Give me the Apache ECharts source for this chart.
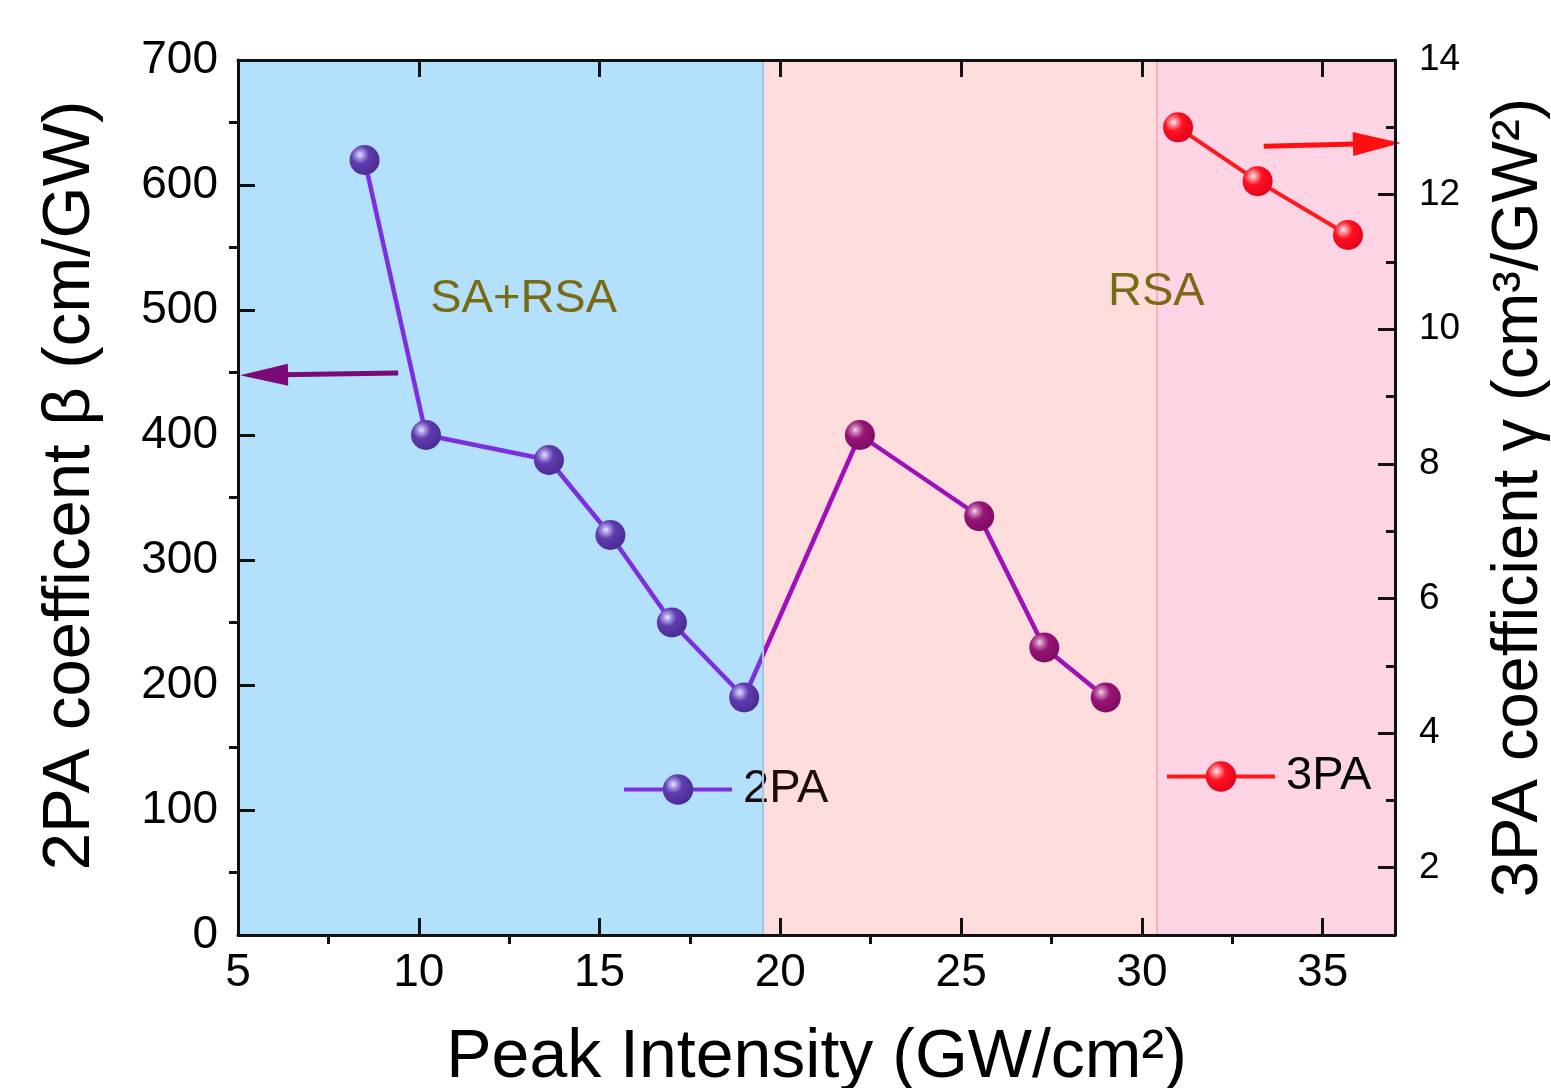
<!DOCTYPE html>
<html><head><meta charset="utf-8">
<script src="https://cdn.jsdelivr.net/npm/echarts@6/dist/echarts.min.js"></script>
<style>html,body{margin:0;padding:0;background:#fff}#c{width:1551px;height:1088px}</style>
</head><body><div id="c"></div>
<script>
// ---- data ----
const xTicks = [5, 10, 15, 20, 25, 30, 35];
const xMinorTicks = [7.5, 12.5, 17.5, 22.5, 27.5, 32.5];
const leftTicks = [0, 100, 200, 300, 400, 500, 600, 700];
const leftMinorTicks = [50, 150, 250, 350, 450, 550, 650];
const rightTicks = [2, 4, 6, 8, 10, 12, 14];
const rightMinorTicks = [3, 5, 7, 9, 11, 13];
const intensity2PA = [8.5, 10.2, 13.6, 15.3, 17.0, 19.0, 22.2, 25.5, 27.3, 29.0];
const beta2PA = [620, 400, 380, 320, 250, 190, 400, 335, 230, 190];
const intensity3PA = [31.0, 33.2, 35.7];
const gamma3PA = [13.0, 12.2, 11.4];
const regionBounds = [5, 19.5, 30.4, 37];
const regionNames = ['SA+RSA', 'RSA'];
const regionLabelX = [12.9, 30.4];
const regionLabelY = [509, 514];
const arrow2PA = [[9.43, 449.6], [5.72, 448]];
const arrow3PA = [[33.37, 12.72], [36.5, 12.76]];

// ---- styles ----
const FONT = '"Liberation Sans", Arial, Helvetica, sans-serif';
const AX = '#111';
const VIOLET = '#7b2fe0', MAGENTA = '#a010b8', RED = '#ff1a1a';
function ball(stops) { return { type: 'radial', x: 0.35, y: 0.33, r: 0.75, colorStops: stops }; }
const ballBlue = ball([{offset:0,color:'#e4ecff'},{offset:0.16,color:'#a898e4'},{offset:0.4,color:'#5f3cae'},{offset:1,color:'#4a2890'}]);
const ballPurple = ball([{offset:0,color:'#f6d8ea'},{offset:0.16,color:'#c878b0'},{offset:0.4,color:'#961474'},{offset:1,color:'#7e0a60'}]);
const ballRed = ball([{offset:0,color:'#fff2f4'},{offset:0.16,color:'#ff8c98'},{offset:0.4,color:'#ff1020'},{offset:1,color:'#e0001a'}]);

function minorAxis(pos, min, max, inside, vals, len) {
  return {
    type: 'value', position: pos, min: min, max: max, z: 10,
    axisLine: { show: false },
    axisTick: { show: true, inside: inside, length: len, customValues: vals, lineStyle: { color: AX, width: 3 } },
    axisLabel: { show: false }, splitLine: { show: false }
  };
}

const chart = echarts.init(document.getElementById('c'));
chart.setOption({
  animation: false,
  backgroundColor: '#fff',
  grid: { left: 238, right: 156, top: 60, bottom: 153, containLabel: false, outerBoundsMode: 'none' },
  xAxis: [
    {
      type: 'value', position: 'bottom', min: 5, max: 37, interval: 5, z: 10,
      axisLine: { show: true, onZero: false, lineStyle: { color: AX, width: 3 } },
      axisTick: { show: true, inside: true, length: 17, customValues: xTicks, lineStyle: { color: AX, width: 3 } },
      axisLabel: { customValues: xTicks, fontSize: 46, color: '#000', margin: 15, fontFamily: FONT },
      splitLine: { show: false },
      name: 'Peak Intensity (GW/cm²)', nameLocation: 'middle', nameGap: 89,
      nameTextStyle: { fontSize: 68, color: '#000', fontFamily: FONT }
    },
    minorAxis('bottom', 5, 37, false, xMinorTicks, 9),
    {
      type: 'value', position: 'top', min: 5, max: 37, z: 10,
      axisLine: { show: true, onZero: false, lineStyle: { color: AX, width: 3 } },
      axisTick: { show: true, inside: true, length: 17, customValues: xTicks, lineStyle: { color: AX, width: 3 } },
      axisLabel: { show: false }, splitLine: { show: false }
    },
    minorAxis('top', 5, 37, true, xMinorTicks, 9)
  ],
  yAxis: [
    {
      type: 'value', position: 'left', min: 0, max: 700, interval: 100, z: 10,
      axisLine: { show: true, onZero: false, lineStyle: { color: AX, width: 3 } },
      axisTick: { show: true, inside: true, length: 17, customValues: leftTicks, lineStyle: { color: AX, width: 3 } },
      axisLabel: { customValues: leftTicks, fontSize: 46, color: '#000', margin: 20, fontFamily: FONT },
      splitLine: { show: false },
      name: '2PA coefficent β (cm/GW)', nameLocation: 'middle', nameGap: 134, nameRotate: 90,
      nameTextStyle: { fontSize: 67, color: '#000', fontFamily: FONT, padding: [0, 0, 0, 24] }
    },
    minorAxis('left', 0, 700, false, leftMinorTicks, 9),
    {
      type: 'value', position: 'right', min: 1, max: 14, z: 10,
      axisLine: { show: true, onZero: false, lineStyle: { color: AX, width: 3 } },
      axisTick: { show: true, inside: true, length: 17, customValues: rightTicks, lineStyle: { color: AX, width: 3 } },
      axisLabel: { customValues: rightTicks, fontSize: 37, color: '#000', margin: 24, fontFamily: FONT },
      splitLine: { show: false },
      name: '3PA coefficient γ (cm³/GW²)', nameLocation: 'middle', nameGap: 92, nameRotate: 90,
      nameTextStyle: { fontSize: 65, color: '#000', fontFamily: FONT }
    },
    minorAxis('right', 1, 14, true, rightMinorTicks, 9)
  ],
  visualMap: {
    show: false, type: 'piecewise', seriesIndex: 0, dimension: 0,
    pieces: [
      { gte: regionBounds[0], lt: regionBounds[1], color: VIOLET },
      { gte: regionBounds[1], lte: regionBounds[3], color: MAGENTA }
    ]
  },
  legend: [
    {
      data: [{ name: '2PA', lineStyle: { color: VIOLET, width: 4 } }],
      left: 617, top: 761, itemWidth: 108, itemHeight: 38,
      textStyle: { fontSize: 47, color: '#1a0a0a', fontFamily: FONT, padding: [0, 0, 0, 6] }
    },
    {
      data: [{ name: '3PA', lineStyle: { color: RED, width: 4 } }],
      left: 1160, top: 748, itemWidth: 108, itemHeight: 38,
      textStyle: { fontSize: 47, color: '#000', fontFamily: FONT, padding: [0, 0, 0, 6] }
    }
  ],
  series: [
    {
      name: '2PA', type: 'line', xAxisIndex: 0, yAxisIndex: 0, z: 3, clip: false,
      symbol: 'circle', symbolSize: 30,
      lineStyle: { width: 4.5 },
      itemStyle: { color: ballBlue },
      data: intensity2PA.map((x, i) => ({
        value: [x, beta2PA[i]],
        itemStyle: { color: x < regionBounds[1] ? ballBlue : ballPurple }
      })),
      markArea: {
        silent: true,
        data: [
          [{ xAxis: regionBounds[0], itemStyle: { color: '#b3e1fd' } }, { xAxis: regionBounds[1] }],
          [{ xAxis: regionBounds[1], itemStyle: { color: '#fddcdc' } }, { xAxis: regionBounds[2] }],
          [{ xAxis: regionBounds[2], itemStyle: { color: '#fdd3e6' } }, { xAxis: regionBounds[3] }]
        ]
      },
      markLine: {
        silent: true, animation: false,
        symbol: ['none', 'none'],
        label: { show: false },
        data: [
          { xAxis: regionBounds[1], lineStyle: { color: '#9ec6e6', width: 2, type: 'solid' } },
          { xAxis: regionBounds[2], lineStyle: { color: '#f2b4bc', width: 2, type: 'solid' } },
          [
            { coord: arrow2PA[0], symbol: 'none', lineStyle: { color: '#7a0a7a', width: 5, type: 'solid' } },
            { coord: arrow2PA[1], symbol: 'triangle', symbolSize: [22, 48] }
          ]
        ]
      },
      markPoint: {
        silent: true,
        symbol: 'circle', symbolSize: 1,
        itemStyle: { color: 'rgba(0,0,0,0)' },
        label: { show: true, position: 'inside', formatter: '{b}', fontSize: 47, color: '#7b6a14', fontFamily: FONT },
        data: regionNames.map((n, i) => ({ name: n, coord: [regionLabelX[i], regionLabelY[i]] }))
      }
    },
    {
      name: '3PA', type: 'line', xAxisIndex: 0, yAxisIndex: 2, z: 3, clip: false,
      symbol: 'circle', symbolSize: 30,
      lineStyle: { width: 4, color: RED },
      itemStyle: { color: ballRed },
      data: intensity3PA.map((x, i) => [x, gamma3PA[i]]),
      markLine: {
        silent: true, animation: false,
        symbol: ['none', 'none'],
        label: { show: false },
        data: [
          [
            { coord: arrow3PA[0], symbol: 'none', lineStyle: { color: '#ff1010', width: 5, type: 'solid' } },
            { coord: arrow3PA[1], symbol: 'triangle', symbolSize: [24, 48] }
          ]
        ]
      }
    }
  ]
});
</script>
</body></html>
